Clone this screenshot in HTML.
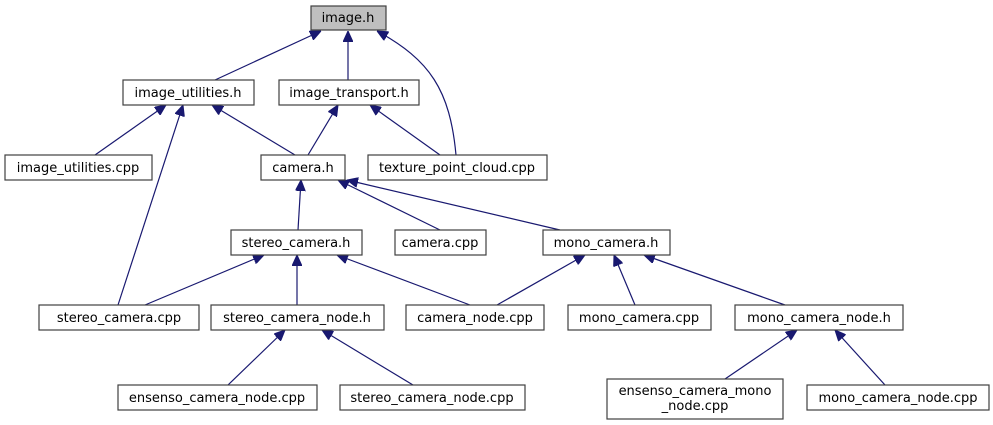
<!DOCTYPE html>
<html><head><meta charset="utf-8"><style>
html,body{margin:0;padding:0;background:#fff;width:993px;height:425px;overflow:hidden}
svg text{font-family:"DejaVu Sans","Liberation Sans",sans-serif;font-size:13px;fill:#000}
</style></head><body>
<svg width="993" height="425" viewBox="0 0 993 425" xmlns="http://www.w3.org/2000/svg">
<defs><marker id="a" markerWidth="11" markerHeight="10" refX="11" refY="5" orient="auto" markerUnits="userSpaceOnUse"><path d="M0,0 L11,5 L0,10 Z" fill="#191970" stroke="#191970"/></marker></defs>
<g stroke="#191970" stroke-width="1.2" fill="none" marker-end="url(#a)">
<line x1="215" y1="80" x2="321" y2="31"/>
<line x1="348" y1="80" x2="348" y2="31"/>
<path d="M456,155 C450,90 430,60 377,31"/>
<line x1="95" y1="155" x2="166" y2="105"/>
<line x1="118" y1="305" x2="183" y2="105"/>
<line x1="295" y1="155" x2="212" y2="105"/>
<line x1="308" y1="155" x2="338" y2="105"/>
<line x1="440" y1="155" x2="370" y2="105"/>
<line x1="298" y1="230" x2="301" y2="180"/>
<line x1="440" y1="230" x2="338" y2="180"/>
<line x1="560" y1="230" x2="347" y2="180"/>
<line x1="145" y1="305" x2="264" y2="255"/>
<line x1="297" y1="305" x2="297" y2="255"/>
<line x1="470" y1="305" x2="337" y2="255"/>
<line x1="497" y1="305" x2="585" y2="255"/>
<line x1="635" y1="305" x2="614" y2="255"/>
<line x1="785" y1="305" x2="644" y2="255"/>
<line x1="228" y1="385" x2="285" y2="330"/>
<line x1="413" y1="385" x2="322" y2="330"/>
<line x1="725" y1="379" x2="797" y2="330"/>
<line x1="885" y1="385" x2="835" y2="330"/>
</g>
<g stroke="#404040" stroke-width="1.2" fill="#fff">
<rect x="311" y="6" width="75" height="24" fill="#bfbfbf"/>
<rect x="123" y="80" width="131" height="25"/>
<rect x="279" y="80" width="140" height="25"/>
<rect x="5" y="155" width="147" height="25"/>
<rect x="261" y="155" width="84" height="25"/>
<rect x="368" y="155" width="179" height="25"/>
<rect x="231" y="230" width="131" height="25"/>
<rect x="395" y="230" width="91" height="25"/>
<rect x="543" y="230" width="127" height="25"/>
<rect x="39" y="305" width="160" height="25"/>
<rect x="211" y="305" width="173" height="25"/>
<rect x="406" y="305" width="138" height="25"/>
<rect x="568" y="305" width="143" height="25"/>
<rect x="735" y="305" width="168" height="25"/>
<rect x="118" y="385" width="199" height="25"/>
<rect x="340" y="385" width="185" height="25"/>
<rect x="607" y="379" width="176" height="40"/>
<rect x="807" y="385" width="182" height="25"/>
</g>
<g text-anchor="middle">
<text x="348" y="22">image.h</text>
<text x="188" y="97">image_utilities.h</text>
<text x="349" y="97">image_transport.h</text>
<text x="78" y="172">image_utilities.cpp</text>
<text x="303" y="172">camera.h</text>
<text x="457" y="172">texture_point_cloud.cpp</text>
<text x="296" y="247">stereo_camera.h</text>
<text x="440" y="247">camera.cpp</text>
<text x="606" y="247">mono_camera.h</text>
<text x="119" y="322">stereo_camera.cpp</text>
<text x="297" y="322">stereo_camera_node.h</text>
<text x="475" y="322">camera_node.cpp</text>
<text x="639" y="322">mono_camera.cpp</text>
<text x="819" y="322">mono_camera_node.h</text>
<text x="217" y="402">ensenso_camera_node.cpp</text>
<text x="432" y="402">stereo_camera_node.cpp</text>
<text x="695" y="395">ensenso_camera_mono</text>
<text x="695" y="410">_node.cpp</text>
<text x="898" y="402">mono_camera_node.cpp</text>
</g>
</svg>
</body></html>
